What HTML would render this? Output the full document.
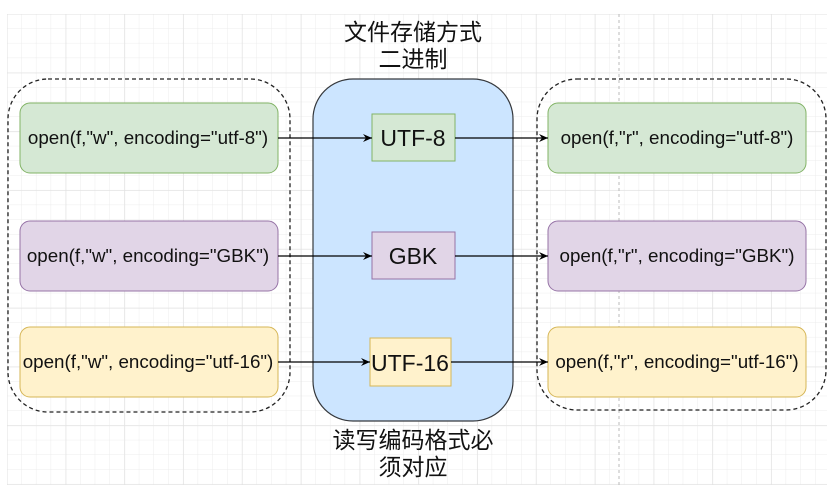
<!DOCTYPE html>
<html><head><meta charset="utf-8"><style>
html,body{margin:0;padding:0;background:#fff;width:834px;height:493px;overflow:hidden}
</style></head><body>
<svg width="834" height="493" xmlns="http://www.w3.org/2000/svg" font-family="Liberation Sans, Noto Sans CJK SC, sans-serif">
<defs>
<pattern id="g" x="7" y="14" width="14.7" height="14.7" patternUnits="userSpaceOnUse">
<path d="M14.7 0V14.7M0 14.7H14.7" stroke="#ececec" stroke-width="1" fill="none"/>
</pattern>
<pattern id="G" x="7" y="14" width="58.8" height="58.8" patternUnits="userSpaceOnUse">
<path d="M0 0V58.8M0 0H58.8" stroke="#e0e0e0" stroke-width="1" fill="none"/>
</pattern>
<marker id="a" markerWidth="10" markerHeight="10" refX="9" refY="5" orient="auto" markerUnits="userSpaceOnUse">
<path d="M0 1L9 5L0 9L3 5Z" fill="#000"/>
</marker>
</defs>
<rect x="7" y="14" width="820" height="471" fill="url(#g)"/>
<rect x="7" y="14" width="820" height="471" fill="url(#G)"/>
<line x1="619" y1="14" x2="619" y2="485" stroke="#bbb" stroke-dasharray="3,3"/>

<rect x="8" y="79" width="282" height="333" rx="40" fill="none" stroke="#222" stroke-width="1.3" stroke-dasharray="4,3"/>
<rect x="537" y="79" width="289" height="331" rx="40" fill="none" stroke="#222" stroke-width="1.3" stroke-dasharray="4,3"/>
<rect x="313" y="79" width="200" height="342" rx="40" fill="#cce5ff" stroke="#36393d" stroke-width="1.2"/>

<g font-size="18.8" text-anchor="middle" fill="#111">
<rect x="20" y="103" width="258" height="70" rx="10" fill="#d5e8d4" stroke="#82b366"/>
<text x="148" y="144">open(f,"w", encoding="utf-8")</text>
<rect x="20" y="221" width="258" height="70" rx="10" fill="#e1d5e7" stroke="#9673a6"/>
<text x="148" y="262">open(f,"w", encoding="GBK")</text>
<rect x="20" y="327" width="258" height="70" rx="10" fill="#fff2cc" stroke="#d6b656"/>
<text x="148" y="368">open(f,"w", encoding="utf-16")</text>

<rect x="548" y="103" width="258" height="70" rx="10" fill="#d5e8d4" stroke="#82b366"/>
<text x="677" y="144">open(f,"r", encoding="utf-8")</text>
<rect x="548" y="221" width="258" height="70" rx="10" fill="#e1d5e7" stroke="#9673a6"/>
<text x="677" y="262">open(f,"r", encoding="GBK")</text>
<rect x="548" y="327" width="258" height="70" rx="10" fill="#fff2cc" stroke="#d6b656"/>
<text x="677" y="368">open(f,"r", encoding="utf-16")</text>
</g>

<g font-size="23" text-anchor="middle" fill="#111">
<rect x="372" y="114" width="83" height="47" fill="#d5e8d4" stroke="#82b366"/>
<text x="413" y="146">UTF-8</text>
<rect x="372" y="232" width="83" height="47" fill="#e1d5e7" stroke="#9673a6"/>
<text x="413" y="264">GBK</text>
<rect x="370" y="338" width="81" height="48" fill="#fff2cc" stroke="#d6b656"/>
<text x="410" y="371">UTF-16</text>
</g>

<g stroke="#000" stroke-width="1.3" marker-end="url(#a)">
<line x1="278" y1="138" x2="372" y2="138"/>
<line x1="278" y1="256" x2="372" y2="256"/>
<line x1="278" y1="362" x2="370" y2="362"/>
<line x1="455" y1="138" x2="548" y2="138"/>
<line x1="455" y1="256" x2="548" y2="256"/>
<line x1="451" y1="362" x2="548" y2="362"/>
</g>

<g font-size="23" text-anchor="middle" fill="#111">
<text x="413" y="40">文件存储方式</text>
<text x="413" y="67">二进制</text>
<text x="413" y="448">读写编码格式必</text>
<text x="413" y="475">须对应</text>
</g>
</svg>
</body></html>
